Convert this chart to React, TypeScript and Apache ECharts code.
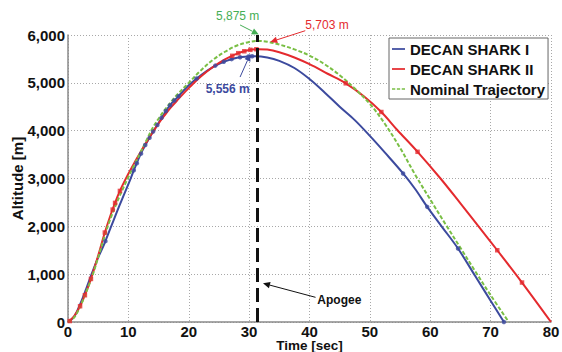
import React, { useEffect, useRef } from 'react';
import * as echarts from 'echarts';

const seriesNames = ['DECAN SHARK I', 'DECAN SHARK II', 'Nominal Trajectory'];

// [time s, altitude m]
const shark1Curve: number[][] = [
  [0, 0], [1, 110], [2, 370], [3, 690], [4, 1030], [5, 1350], [6, 1630], [7, 1950], [8, 2270], [9, 2580],
  [10, 2880], [11, 3200], [12, 3500], [13, 3740], [14, 3960], [15, 4160], [16, 4370], [17, 4550], [18, 4680],
  [20, 4950], [22, 5160], [24, 5330], [26, 5450], [28, 5525], [30, 5553], [31, 5556], [33, 5530], [35, 5460],
  [37.5, 5310], [40, 5080], [42.5, 4800], [45, 4500], [47.5, 4220], [50, 3890], [52.5, 3540], [55.5, 3106],
  [57.5, 2780], [59.5, 2407], [62, 1980], [64.6, 1536], [67.5, 950], [70, 445], [72.2, 0],
];
const shark2Curve: number[][] = [
  [0, 0], [1, 120], [2, 330], [2.8, 560], [3.8, 900], [5, 1390], [6.1, 1870], [7.2, 2290], [8, 2560], [8.6, 2740],
  [9, 2850], [10, 3100], [11, 3330], [12, 3550], [13, 3760], [14, 3960], [15, 4150], [16, 4320], [17, 4480],
  [18, 4620], [19, 4760], [20, 4890], [22, 5130], [24, 5330], [26, 5490], [28, 5610], [30, 5685], [31.5, 5703],
  [33, 5695], [35, 5640], [37.5, 5530], [40, 5390], [43, 5190], [46, 4990], [49, 4720], [51.9, 4390],
  [54.5, 4020], [57.9, 3558], [61.7, 3000], [65, 2480], [68, 2000], [71.1, 1500], [75.2, 825], [80, 0],
];
const nominalCurve: number[][] = [
  [0, 0], [1, 90], [2, 320], [3, 620], [4, 950], [5, 1350], [6, 1770], [7, 2150], [8, 2470], [9, 2760],
  [10, 3030], [11, 3290], [12, 3540], [13, 3800], [14, 4050], [15, 4250], [16, 4430], [17, 4590], [18, 4740],
  [20, 5000], [22, 5260], [24, 5480], [26, 5650], [28, 5780], [30, 5855], [31.3, 5875], [33, 5860], [35, 5800],
  [37.5, 5700], [40, 5570], [42.5, 5390], [45, 5160], [47.5, 4880], [50, 4560], [52.5, 4140], [55, 3640],
  [57.5, 3080], [60, 2560], [62.5, 2050], [65, 1550], [67.5, 1050], [70, 560], [73, 0],
];

const shark1Markers: number[][] = [
  [6.2, 1690], [10.9, 3170], [11.4, 3320], [12.1, 3520], [12.8, 3700], [13.5, 3850], [14.1, 3980], [14.8, 4120],
  [15.5, 4270], [16.2, 4410], [16.9, 4530], [17.6, 4630], [18.3, 4720], [21.3, 5090], [24.4, 5360], [25.8, 5440],
  [27.1, 5495], [28.5, 5535], [29.9, 5552], [30.5, 5556], [55.5, 3106], [59.5, 2407], [64.6, 1536], [72.2, 0],
];
const shark2Markers: number[][] = [
  [0.3, 20], [2.0, 330], [2.8, 560], [3.8, 900], [6.1, 1870], [7.4, 2350], [7.8, 2490], [8.6, 2740],
  [27.2, 5565], [28.2, 5620], [29.2, 5660], [30.2, 5690], [31.2, 5702], [46, 4990], [51.9, 4390],
  [57.9, 3558], [71.1, 1500], [75.2, 825],
];

const apogeeTime = 31.3;

const colors = { blue: '#3C4A9E', red: '#E42A2E', green: '#7ABF45' };

const annotations = [
  { text: '5,875 m', color: '#45AE55', weight: 'normal', at: [28.1, 6398], align: 'center', from: [28.5, 6210], to: [31.6, 6010] },
  { text: '5,703 m', color: '#E42A2E', weight: 'normal', at: [39.3, 6215], align: 'left', from: [39.3, 6090], to: [33.5, 5854] },
  { text: '5,556 m', color: '#3C4A9E', weight: 'bold', at: [26.45, 4870], align: 'center', from: [28.5, 5121], to: [30.2, 5603] },
  { text: 'Apogee', color: '#111111', weight: 'bold', at: [41.3, 456], align: 'left', from: [41.0, 516], to: [32.3, 809] },
];

const FONT = '"Liberation Sans", Arial, Helvetica, sans-serif';
const SOLID_ICON = 'path://M0,0h12v1.6h-12z';
const DASH_ICON = 'path://M0,0h3v1.6h-3z M4.5,0h3v1.6h-3z M9,0h3v1.6h-3z';

export default function App() {
  const ref = useRef<HTMLDivElement>(null);
  useEffect(() => {
    if (!ref.current) return;
    const chart = echarts.init(ref.current, undefined, { renderer: 'svg' });
    const lineSeries = (name: string, data: number[][], color: string, dashed: boolean, extra: any = {}) => ({
      name,
      type: 'line',
      data,
      smooth: 0.35,
      showSymbol: false,
      symbol: 'none',
      lineStyle: { color, width: 2, type: dashed ? [4, 2] : 'solid' },
      itemStyle: { color },
      z: 3,
      ...extra,
    });
    chart.setOption({
      animation: false,
      backgroundColor: '#ffffff',
      textStyle: { fontFamily: FONT },
      grid: { left: 68, right: 11, top: 35, bottom: 30, containLabel: false, outerBoundsMode: 'none' },
      legend: {
        data: [
          { name: seriesNames[0], icon: SOLID_ICON },
          { name: seriesNames[1], icon: SOLID_ICON },
          { name: seriesNames[2], icon: DASH_ICON },
        ],
        orient: 'vertical',
        left: 389,
        top: 38,
        padding: [3, 3, 2, 3],
        itemGap: 4,
        itemWidth: 13,
        itemHeight: 2,
        itemTextGap: 3,
        backgroundColor: '#ffffff',
        borderColor: '#666666',
        borderWidth: 1,
        borderRadius: 0,
        textStyle: { fontSize: 15, fontWeight: 'bold', color: '#111111', fontFamily: FONT, lineHeight: 16 },
      },
      xAxis: {
        type: 'value',
        min: 0,
        max: 80,
        interval: 10,
        name: 'Time [sec]',
        nameLocation: 'middle',
        nameGap: 17,
        nameMoveOverlap: false,
        nameTextStyle: { fontSize: 13.5, fontWeight: 'bold', color: '#111111', fontFamily: FONT, lineHeight: 13 },
        axisLine: { show: true, lineStyle: { color: '#8a8a8a', width: 1.5 } },
        axisTick: { show: false },
        axisLabel: { fontSize: 15, fontWeight: 'bold', color: '#111111', margin: 2, lineHeight: 14, fontFamily: FONT },
        splitLine: { show: true, lineStyle: { color: '#a8a8a8', type: [1, 2], width: 1 } },
      },
      yAxis: {
        type: 'value',
        min: 0,
        max: 6000,
        interval: 1000,
        name: 'Altitude [m]',
        nameLocation: 'middle',
        nameGap: 43,
        nameRotate: 90,
        nameMoveOverlap: false,
        nameTextStyle: { fontSize: 15, fontWeight: 'bold', color: '#111111', fontFamily: FONT },
        axisLine: { show: true, lineStyle: { color: '#8a8a8a', width: 1.5 } },
        axisTick: { show: false },
        axisLabel: {
          fontSize: 15,
          fontWeight: 'bold',
          color: '#111111',
          margin: 3,
          fontFamily: FONT,
          formatter: (v: number) => v.toLocaleString('en-US'),
        },
        splitLine: { show: true, lineStyle: { color: '#a8a8a8', type: [1, 2], width: 1 } },
      },
      series: [
        lineSeries(seriesNames[0], shark1Curve, colors.blue, false),
        lineSeries(seriesNames[1], shark2Curve, colors.red, false),
        lineSeries(seriesNames[2], nominalCurve, colors.green, true, {
          markLine: {
            silent: true,
            symbol: ['none', 'none'],
            label: { show: false },
            lineStyle: { color: '#111111', width: 3, type: [14, 6] },
            data: [{ xAxis: apogeeTime }],
            z: 5,
          },
        }),
        {
          name: 'shark1-markers',
          type: 'scatter',
          data: shark1Markers,
          symbol: 'circle',
          symbolSize: 4.5,
          itemStyle: { color: colors.blue },
          z: 4,
        },
        {
          name: 'shark2-markers',
          type: 'scatter',
          data: shark2Markers,
          symbol: 'rect',
          symbolSize: 4.5,
          itemStyle: { color: colors.red },
          z: 4,
        },
      ],
    });

    const px = (p: number[]) => chart.convertToPixel({ gridIndex: 0 }, p) as number[];
    const elements: any[] = [];
    annotations.forEach((a) => {
      const f = px(a.from);
      const t = px(a.to);
      const dx = t[0] - f[0];
      const dy = t[1] - f[1];
      const len = Math.sqrt(dx * dx + dy * dy) || 1;
      const ux = dx / len;
      const uy = dy / len;
      const L = 7;
      const W = 3.2;
      const bx = t[0] - ux * L;
      const by = t[1] - uy * L;
      elements.push({
        type: 'line',
        z: 10,
        shape: { x1: f[0], y1: f[1], x2: bx, y2: by },
        style: { stroke: a.color, lineWidth: 1 },
      });
      elements.push({
        type: 'polygon',
        z: 10,
        shape: { points: [[t[0], t[1]], [bx - uy * W, by + ux * W], [bx + uy * W, by - ux * W]] },
        style: { fill: a.color },
      });
      const tp = px(a.at);
      elements.push({
        type: 'text',
        z: 10,
        x: tp[0],
        y: tp[1],
        style: {
          text: a.text,
          fill: a.color,
          fontSize: 12,
          fontWeight: a.weight,
          fontFamily: FONT,
          align: a.align,
          verticalAlign: 'middle',
        },
      });
    });
    chart.setOption({ graphic: elements });

    return () => chart.dispose();
  }, []);
  return <div ref={ref} style={{ position: 'fixed', left: 0, top: 0, width: 562, height: 352 }} />;
}
